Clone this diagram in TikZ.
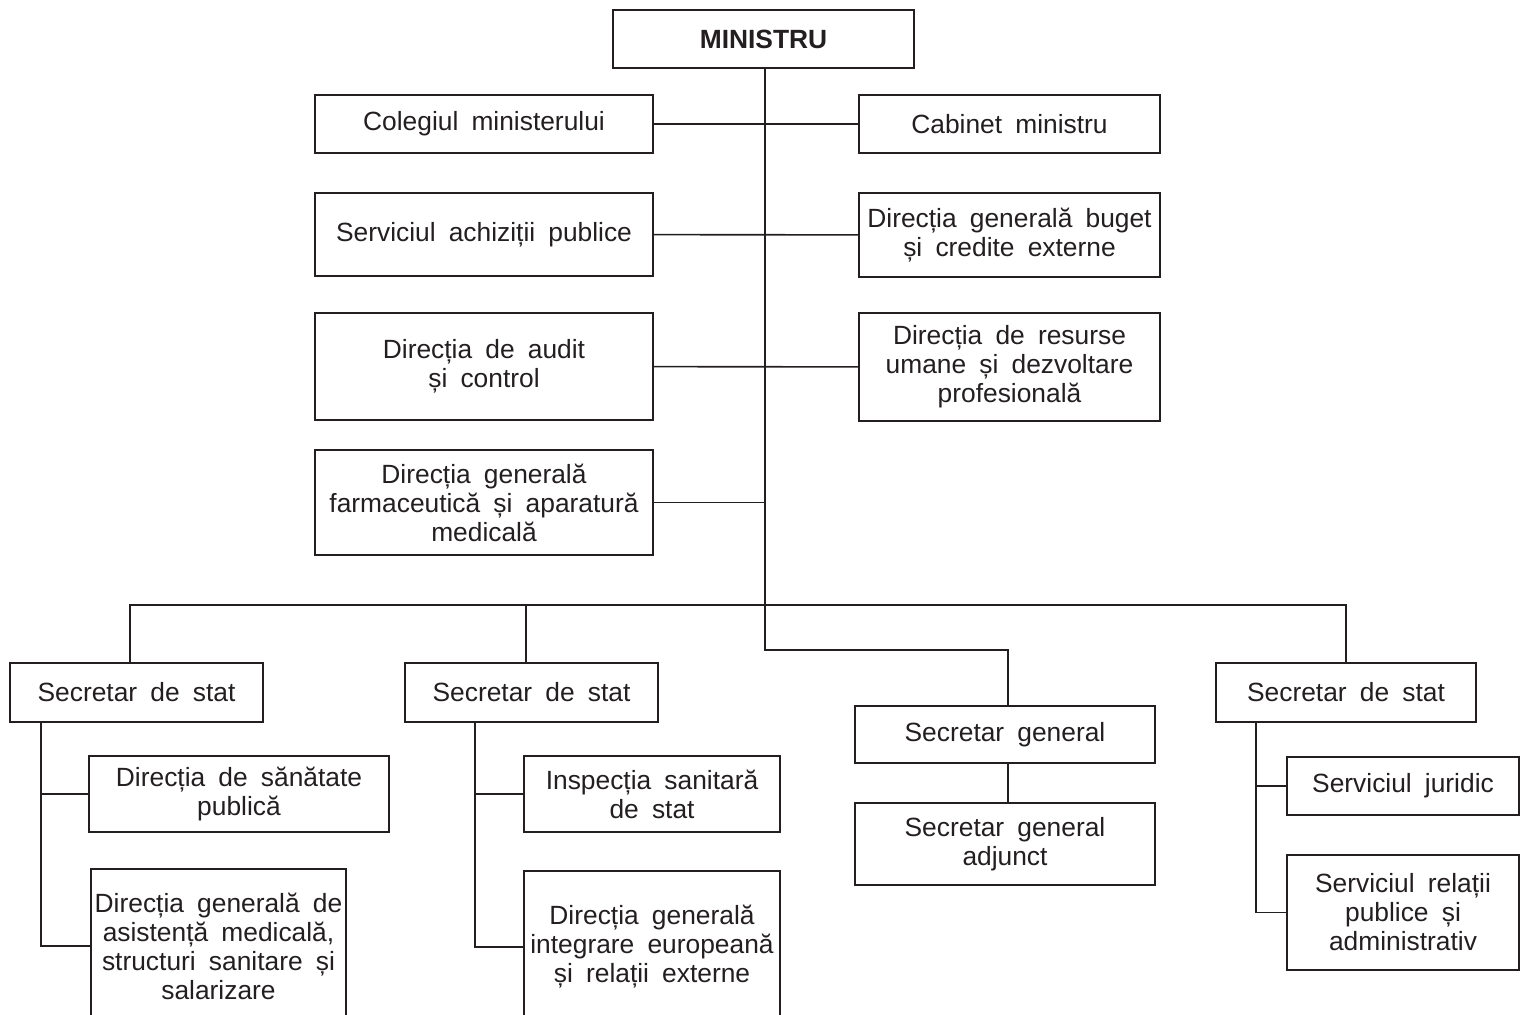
\documentclass[tikz,border=0pt]{standalone}
\usepackage{fontspec}
\setmainfont{Liberation Sans}[WordSpace=1.8]
\usepackage{xcolor}
\usetikzlibrary{positioning,calc}
\definecolor{ink}{HTML}{231F20}
\tikzset{
  orgbox/.style={draw=ink,line width=1.1pt,fill=white,align=center,text=ink,
    font=\fontsize{15}{16.5}\selectfont,inner sep=2pt},
  orghead/.style={orgbox,font=\fontsize{15}{16.5}\selectfont\bfseries,minimum width=6.02cm,minimum height=1.16cm},
  orgleft/.style={orgbox,minimum width=6.76cm},
  orgright/.style={orgbox,minimum width=6.02cm},
  orgsec/.style={orgbox,minimum width=5.06cm,minimum height=1.18cm},
  orgline/.style={draw=ink,line width=0.9pt}
}
\begin{document}
\begin{tikzpicture}[x=0.02cm,y=-0.02cm]
  \useasboundingbox (0,0) rectangle (1523,1014);
  \clip (0,0) rectangle (1523,1014);
  % top level
  \node[orghead] (ministru) at (763.5,39) {MINISTRU};
  \node[orgleft,minimum height=1.16cm] (colegiu) at (484,124) {Colegiul ministerului};
  \node[orgright,minimum height=1.16cm] (cabinet) at (1009.5,124) {Cabinet ministru};
  \node[orgleft,minimum height=1.66cm] (achizitii) at (484,234.5) {Serviciul achiziții publice};
  \node[orgright,minimum height=1.68cm] (buget) at (1009.5,235) {Direcția generală buget\\și credite externe};
  \node[orgleft,minimum height=2.14cm] (audit) at (484,366.5) {Direcția de audit\\și control};
  \node[orgright,minimum height=2.16cm] (resurse) at (1009.5,367) {Direcția de resurse\\umane și dezvoltare\\profesională};
  \node[orgleft,minimum height=2.1cm] (farma) at (484,502.5) {Direcția generală\\farmaceutică și aparatură\\medicală};
  % secretaries
  \node[orgsec] (stat1) at (136.5,692.5) {Secretar de stat};
  \node[orgsec] (stat2) at (531.5,692.5) {Secretar de stat};
  \node[orgsec,minimum width=5.2cm] (stat3) at (1346,692.5) {Secretar de stat};
  \node[orgbox,minimum width=6cm,minimum height=1.14cm] (secgen) at (1005,734.5) {Secretar general};
  \node[orgbox,minimum width=6cm,minimum height=1.64cm] (secadj) at (1005,844) {Secretar general\\adjunct};
  % departments
  \node[orgbox,minimum width=6cm,minimum height=1.52cm] (sanatate) at (239,794) {Direcția de sănătate\\publică};
  \node[orgbox,minimum width=5.1cm,minimum height=3.08cm] (asistenta) at (218.5,946) {Direcția generală de\\asistență medicală,\\structuri sanitare și\\salarizare};
  \node[orgbox,minimum width=5.12cm,minimum height=3.04cm] (integrare) at (652,947) {Direcția generală\\integrare europeană\\și relații externe};
  \node[orgbox,minimum width=5.12cm,minimum height=1.52cm] (inspectia) at (652,794) {Inspecția sanitară\\de stat};
  \node[orgbox,minimum width=4.64cm,minimum height=1.16cm] (juridic) at (1403,786) {Serviciul juridic};
  \node[orgbox,minimum width=4.64cm,minimum height=2.3cm] (relatii) at (1403,912.5) {Serviciul relații\\publice și\\administrativ};
  % connector points
  \coordinate (bus) at (765,605);
  \coordinate (turn) at (765,650);
  \coordinate (drop1) at (130,605);
  \coordinate (drop2) at (526,605);
  \coordinate (drop3) at (1346,605);
  \coordinate (dropg) at (1008,650);
  \coordinate (spine1) at (41,722);
  \coordinate (spine2) at (475,722);
  \coordinate (spine3) at (1256,722);
  % connectors
  \draw[orgline] (ministru.south -| bus) -- (turn) -- (dropg) -- (dropg |- secgen.north);
  \draw[orgline] (colegiu) -- (cabinet);
  \draw[orgline] (achizitii) -- (buget);
  \draw[orgline] (audit) -- (resurse);
  \draw[orgline] (farma.east) -- (farma.east -| bus);
  \draw[orgline] (drop1 |- stat1.north) -- (drop1) -- (drop3) -- (stat3.north);
  \draw[orgline] (drop2) -- (drop2 |- stat2.north);
  \draw[orgline] (dropg |- secgen.south) -- (dropg |- secadj.north);
  \draw[orgline] (spine1) |- (asistenta.west);
  \draw[orgline] (sanatate.west) -- (sanatate.west -| spine1);
  \draw[orgline] (spine2) |- (integrare.west);
  \draw[orgline] (inspectia.west) -- (inspectia.west -| spine2);
  \draw[orgline] (spine3) |- (relatii.west);
  \draw[orgline] (juridic.west) -- (juridic.west -| spine3);
\end{tikzpicture}
\end{document}
